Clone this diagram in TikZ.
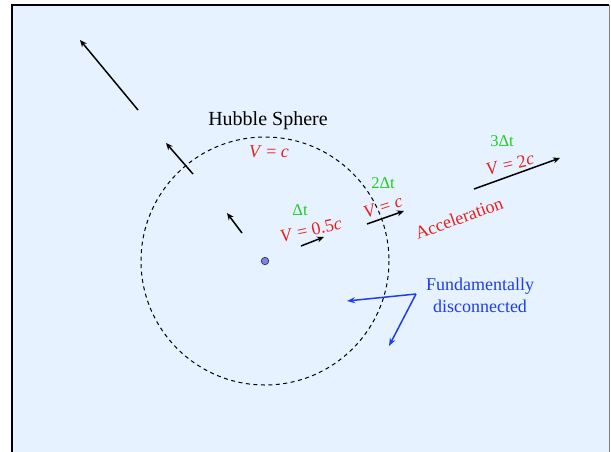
\documentclass[tikz,border=0pt]{standalone}
\usepackage{fontspec}
\setmainfont{Liberation Serif}
\usepackage{xcolor}
\usetikzlibrary{arrows.meta, positioning}
\definecolor{skyfill}{HTML}{E6F2FF}
\definecolor{velred}{HTML}{E8201C}
\definecolor{timegreen}{HTML}{22CC22}
\definecolor{noteblue}{HTML}{1E3CF0}
\definecolor{dotblue}{HTML}{7F7FF0}
\tikzstyle{vel} = [draw, line width=1.5pt, -{Stealth[length=7pt, width=6pt]}]
\tikzstyle{link} = [draw, noteblue, line width=1.5pt, -{Stealth[length=8pt, width=6pt]}]
\tikzstyle{speed} = [text=velred, font=\fontsize{18}{20}\selectfont, inner sep=0pt]
\tikzstyle{tick} = [text=timegreen, font=\fontsize{16.5}{18}\selectfont, inner sep=0pt]

\begin{document}
\begin{tikzpicture}[x=1pt, y=-1pt]
    \useasboundingbox (0,0) rectangle (611,451);
    % Background
    \fill [skyfill] (12,5) rectangle (609,460);
    \draw [line width=2pt] (12,460) -- (12,5) -- (609,5);
    \draw [gray, line width=1pt] (609,5) -- (609,460);

    % Sphere
    \coordinate (origin) at (265,261);
    \draw [dashed, line width=1pt, dash pattern=on 4pt off 3.5pt] (origin) circle [radius=124];
    \node [circle, draw=black!80, fill=dotblue, line width=0.7pt, inner sep=0pt, minimum size=7.5pt] (dot) at (origin) {};

    % Nodes
    \node [font=\fontsize{20}{22}\selectfont, inner sep=0pt] (hubble) at (268,121) {Hubble Sphere};
    \node [speed] (vc) at (269,152) {\textit{V} = \textit{c}};
    \node [tick] (t1) at (300,210) {Δt};
    \node [speed, rotate=12] (v05) at (311,230) {\textit{V} = 0.5\textit{c}};
    \node [tick] (t2) at (383,183) {2Δt};
    \node [speed, rotate=18] (v1) at (383,207) {\textit{V} = \textit{c}};
    \node [speed, rotate=20] (accel) at (459,218) {Acceleration};
    \node [tick] (t3) at (502,141) {3Δt};
    \node [speed, rotate=13] (v2) at (510,164) {\textit{V} = 2\textit{c}};
    \node [text=noteblue, font=\fontsize{18}{22}\selectfont, align=center, inner sep=0pt] (note) at (480,295) {Fundamentally\\disconnected};

    % Arrow ends
    \coordinate (farA) at (138,110);   \coordinate (farB) at (80,40);
    \coordinate (edgeA) at (193,174);  \coordinate (edgeB) at (166,143);
    \coordinate (nearA) at (242,233);  \coordinate (nearB) at (227,213);
    \coordinate (halfA) at (301,246);  \coordinate (halfB) at (324,237);
    \coordinate (lightA) at (367,224); \coordinate (lightB) at (404,211);
    \coordinate (twoA) at (474,189);   \coordinate (twoB) at (560,158);
    \coordinate (fork) at (416,294);
    \coordinate (inside) at (347,301);
    \coordinate (below) at (389,346);

    % Edges
    \path [vel] (farA) -- (farB);
    \path [vel] (edgeA) -- (edgeB);
    \path [vel] (nearA) -- (nearB);
    \path [vel] (halfA) -- (halfB);
    \path [vel] (lightA) -- (lightB);
    \path [vel] (twoA) -- (twoB);
    \path [link] (fork) -- (inside);
    \path [link] (fork) -- (below);
\end{tikzpicture}
\end{document}
